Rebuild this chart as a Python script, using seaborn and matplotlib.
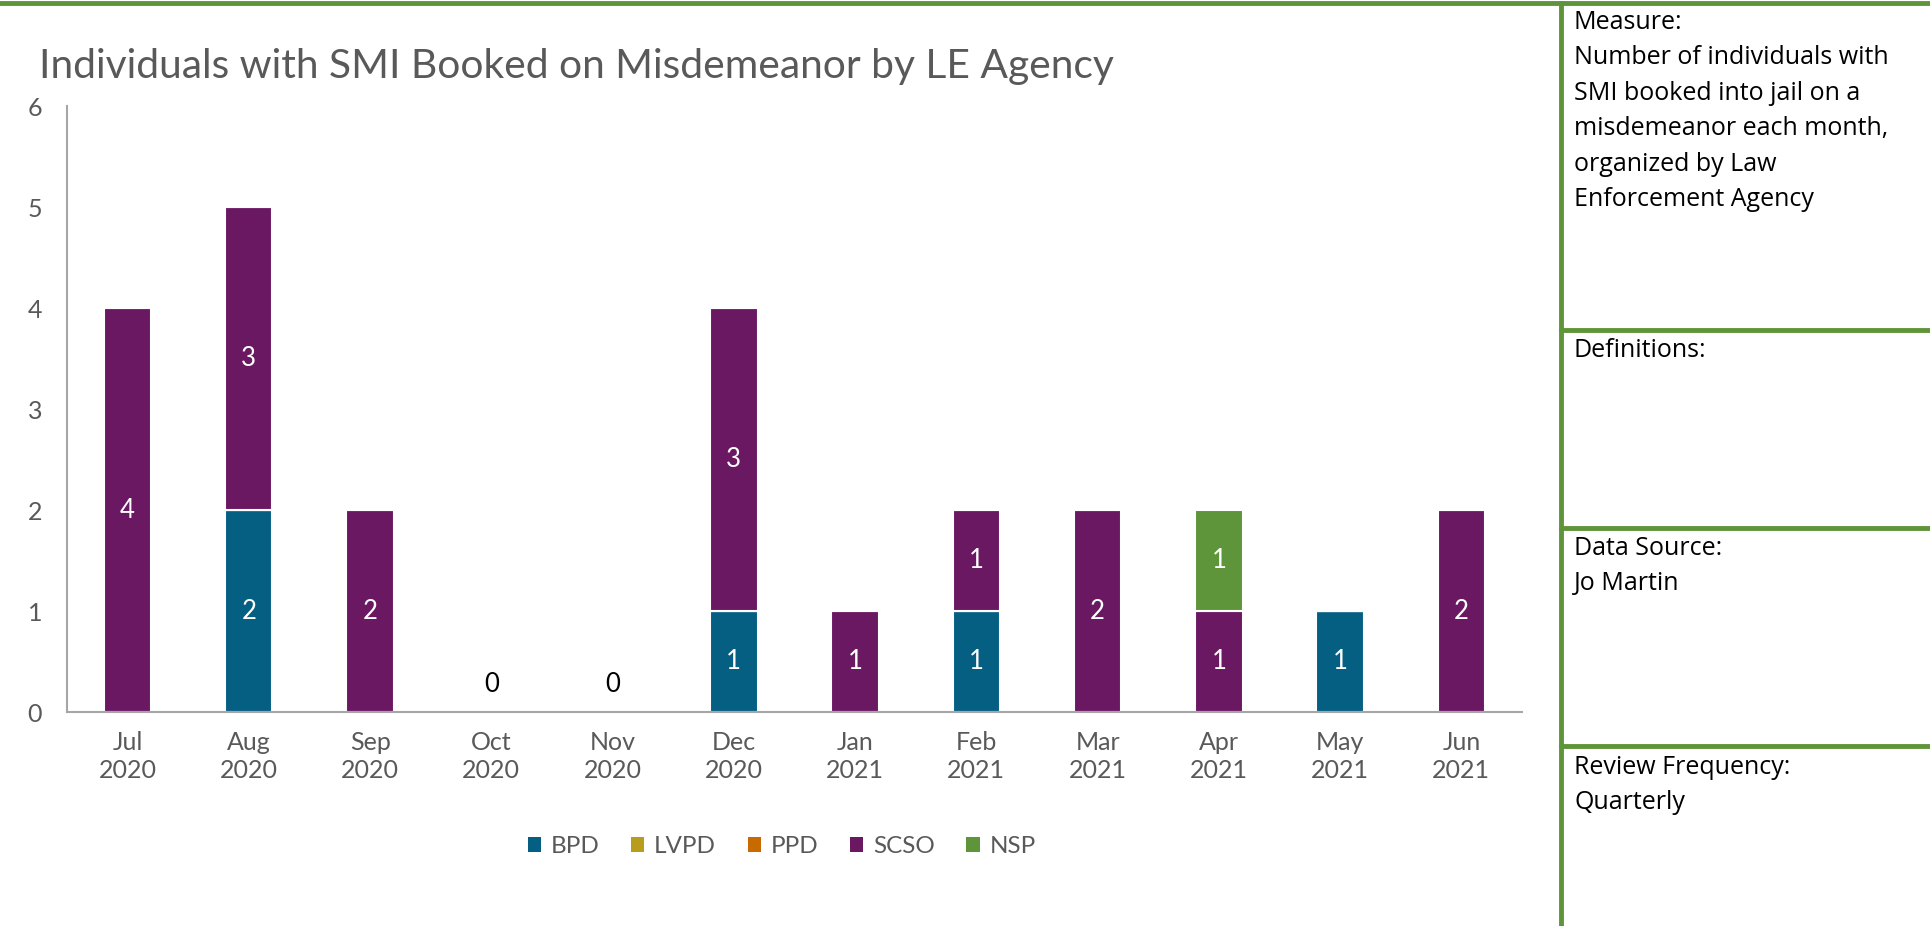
import numpy as np
import matplotlib
matplotlib.use("Agg")
import matplotlib.pyplot as plt
import seaborn as sns
from matplotlib.patches import Patch
from matplotlib.lines import Line2D

# chart data
months = ["Jul\n2020", "Aug\n2020", "Sep\n2020", "Oct\n2020", "Nov\n2020", "Dec\n2020",
          "Jan\n2021", "Feb\n2021", "Mar\n2021", "Apr\n2021", "May\n2021", "Jun\n2021"]
agencies = ["BPD", "LVPD", "PPD", "SCSO", "NSP"]
bpd = [0, 2, 0, 0, 0, 1, 0, 1, 0, 0, 1, 0]
lvpd = [0, 0, 0, 0, 0, 0, 0, 0, 0, 0, 0, 0]
ppd = [0, 0, 0, 0, 0, 0, 0, 0, 0, 0, 0, 0]
scso = [4, 3, 2, 0, 0, 3, 1, 1, 2, 1, 0, 2]
nsp = [0, 0, 0, 0, 0, 0, 0, 0, 0, 1, 0, 0]
y_ticks = [0, 1, 2, 3, 4, 5, 6]

title = "Individuals with SMI Booked on Misdemeanor by LE Agency"
panel_texts = [
    "Measure:\nNumber of individuals with\nSMI booked into jail on a\nmisdemeanor each month,\norganized by Law\nEnforcement Agency",
    "Definitions:",
    "Data Source:\nJo Martin",
    "Review Frequency:\nQuarterly",
]

colors = {
    "BPD": "#045F82",
    "LVPD": "#B89D1C",
    "PPD": "#C96A00",
    "SCSO": "#6B1863",
    "NSP": "#5E943A",
}
frame_green = "#5E943A"
text_gray = "#595959"

sns.set_theme(style="white")
plt.rcParams["font.family"] = ["Lato", "DejaVu Sans"]

fig = plt.figure(figsize=(19.3, 9.26), dpi=100)
ax = fig.add_axes([0.0347, 0.2311, 0.7539, 0.6544])

series = {"BPD": bpd, "LVPD": lvpd, "PPD": ppd, "SCSO": scso, "NSP": nsp}
bottom = np.zeros(len(months))
for name in agencies:
    vals = np.array(series[name], dtype=float)
    sns.barplot(x=months, y=vals, bottom=bottom, color=colors[name], width=0.39,
                saturation=1, edgecolor="white", linewidth=1.5, ax=ax)
    cont = ax.containers[-1]
    labels = [f"{int(v)}" if v > 0 else "" for v in vals]
    ax.bar_label(cont, labels=labels, label_type="center", color="white", fontsize=18.5)
    bottom += vals

# zero totals get a black label just above the baseline
for i, tot in enumerate(bottom):
    if tot == 0:
        ax.annotate("0", (i, 0), xytext=(0, 11), textcoords="offset points",
                    ha="center", va="bottom", fontsize=18.5, color="black")

ax.set_xlim(-0.5, len(months) - 0.5)
ax.set_ylim(0, 6)
ax.set_yticks(y_ticks)
ax.tick_params(axis="both", length=0, labelsize=18, labelcolor=text_gray)
ax.tick_params(axis="y", pad=18)
ax.tick_params(axis="x", pad=14)
for lab in ax.get_xticklabels():
    lab.set_linespacing(1.25)
ax.set_xlabel("")
ax.set_ylabel("")
sns.despine(ax=ax, top=True, right=True)
for side in ["left", "bottom"]:
    ax.spines[side].set_color("#A6A6A6")
    ax.spines[side].set_linewidth(1.5)
ax.grid(False)

fig.text(0.0202, 0.928, title, fontsize=29.3, color=text_gray, ha="left", va="center")

handles = [Patch(facecolor=colors[a], edgecolor="none", label=a) for a in agencies]
fig.legend(handles=handles, loc="center", bbox_to_anchor=(0.405, 0.086), ncol=5,
           frameon=False, fontsize=17.5, handlelength=0.55, handleheight=0.55,
           handletextpad=0.4, columnspacing=1.3, labelcolor=text_gray)

# green frame and side panel
W, H = 1930, 926
def fx(px):
    return px / W
def fy(py):
    return 1 - py / H

lw = 3.5
fig.add_artist(Line2D([0, 1], [fy(3), fy(3)], color=frame_green, lw=lw, transform=fig.transFigure))
fig.add_artist(Line2D([fx(1561), fx(1561)], [0, fy(3)], color=frame_green, lw=lw, transform=fig.transFigure))
for py in [330, 528, 746]:
    fig.add_artist(Line2D([fx(1561), 1], [fy(py), fy(py)], color=frame_green, lw=lw,
                          transform=fig.transFigure))

panel_tops = [10, 338, 536, 755]
for txt, top in zip(panel_texts, panel_tops):
    fig.text(fx(1574), fy(top), txt, fontsize=18, color="black", ha="left", va="top",
             linespacing=1.55, family=["Open Sans", "DejaVu Sans"])

fig.savefig("out.png", dpi=100, facecolor="white")
